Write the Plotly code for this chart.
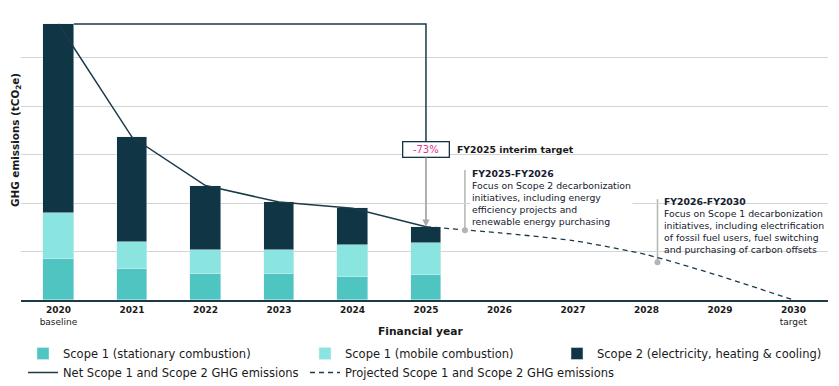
import plotly.graph_objects as go

# ---------------- data ----------------
years = ["2020", "2021", "2022", "2023", "2024", "2025", "2026", "2027", "2028", "2029", "2030"]
tick_text = ["<b>2020</b><br>baseline", "<b>2021</b>", "<b>2022</b>", "<b>2023</b>", "<b>2024</b>",
             "<b>2025</b>", "<b>2026</b>", "<b>2027</b>", "<b>2028</b>", "<b>2029</b>",
             "<b>2030</b><br>target"]
actual_years = years[:6]
scope1_stationary = [850, 640, 540, 540, 470, 520]
scope1_mobile = [950, 560, 490, 490, 660, 660]
scope2 = [3890, 2160, 1330, 990, 760, 330]
projected_years = years[5:]
projected = [1510, 1385, 1225, 935, 495, 0]
reduction_label = "-73%"

# callout anchors (x in category index units, y in tCO2e)
callout1_x, callout1_y0, callout1_y1 = 5.53, 1440, 2680
callout2_x, callout2_y0, callout2_y1 = 8.15, 780, 2080

DARK = "#103544"
LINE = "#1b3a4a"
TEAL = "#4EC5C1"
LIGHT = "#8AE4DF"
GREY = "#b4b4b4"
PINK = "#E0338F"
TXT = "#1a1a1a"
FONT = "DejaVu Sans"

# page offset (browser body margin)
OFF = 8
W, H = 839 - OFF, 386 - OFF
ML, MR, MT, MB = 21 - OFF, 11, 0, 86
PW, PH = W - ML - MR, H - MT - MB
Y_TOP = 6000 * PH / 291.0


def px_x(p):  # page pixel -> paper x
    return (p - OFF - ML) / PW


def px_y(p):  # page pixel -> paper y
    return (H - MB - (p - OFF)) / PH


xi = list(range(len(years)))
x_act = xi[:6]
x_proj = xi[5:]
totals = [a + b + c for a, b, c in zip(scope1_stationary, scope1_mobile, scope2)]

fig = go.Figure()
bw = 0.42
fig.add_trace(go.Bar(x=x_act, y=scope1_stationary, name="Scope 1 (stationary combustion)",
                     marker_color=TEAL, width=bw, legend="legend"))
fig.add_trace(go.Bar(x=x_act, y=scope1_mobile, name="Scope 1 (mobile combustion)",
                     marker_color=LIGHT, width=bw, legend="legend2"))
fig.add_trace(go.Bar(x=x_act, y=scope2, name="Scope 2 (electricity, heating & cooling)",
                     marker_color=DARK, width=bw, legend="legend3"))
fig.add_trace(go.Scatter(x=x_act, y=totals, mode="lines", name="Net Scope 1 and Scope 2 GHG emissions",
                         line=dict(color=LINE, width=1.5), legend="legend"))
fig.add_trace(go.Scatter(x=x_proj, y=projected, mode="lines",
                         name="Projected Scope 1 and Scope 2 GHG emissions",
                         line=dict(color=LINE, width=1.3, dash="5px,4px", shape="spline", smoothing=0.6),
                         legend="legend2"))
# callout dots
fig.add_trace(go.Scatter(x=[callout1_x, callout2_x], y=[callout1_y0, callout2_y0], mode="markers",
                         marker=dict(color=GREY, size=6), showlegend=False, hoverinfo="skip"))

fig.update_layout(barmode="stack")

# bracket from 2020 top to the -73% box
box_top = 3258
fig.add_shape(type="path",
              path=f"M{0 + bw/2},{totals[0]}L5,{totals[0]}L5,{box_top}",
              line=dict(color=LINE, width=1.5), layer="above")
# callout lines
fig.add_shape(type="line", x0=callout1_x, x1=callout1_x, y0=callout1_y0, y1=callout1_y1,
              line=dict(color=GREY, width=1.5), layer="below")
fig.add_shape(type="line", x0=callout2_x, x1=callout2_x, y0=callout2_y0, y1=callout2_y1,
              line=dict(color=GREY, width=1.5), layer="below")

ann = []
ann.append(dict(x=5, y=totals[5], xref="x", yref="y", text=reduction_label,
                showarrow=True, ax=0, ay=-77, arrowcolor="#a8a8a8", arrowwidth=1.8,
                arrowhead=2, arrowsize=0.8, standoff=0,
                font=dict(family=FONT, size=10, color=PINK),
                bgcolor="white", bordercolor=DARK, borderwidth=1.3, borderpad=1,
                width=43, height=12))
ann.append(dict(x=5.395, y=3113, xref="x", yref="y", xanchor="left", yanchor="middle",
                text="<b>FY2025 interim target</b>", showarrow=False,
                font=dict(family=FONT, size=9.3, color=TXT)))
ann.append(dict(x=5.6, y=2760, xref="x", yref="y", xanchor="left", yanchor="top", align="left",
                text="<b>FY2025-FY2026</b><br>Focus on Scope 2 decarbonization<br>initiatives, including energy<br>"
                     "efficiency projects and<br>renewable energy purchasing",
                showarrow=False, font=dict(family=FONT, size=9.3, color="#14202e"), bgcolor="white"))
ann.append(dict(x=8.21, y=2180, xref="x", yref="y", xanchor="left", yanchor="top", align="left",
                text="<b>FY2026-FY2030</b><br>Focus on Scope 1 decarbonization<br>initiatives, including electrification<br>"
                     "of fossil fuel users, fuel switching<br>and purchasing of carbon offsets",
                showarrow=False, font=dict(family=FONT, size=9.3, color="#14202e")))
ann.append(dict(x=px_x(420), y=px_y(331), xref="paper", yref="paper", xanchor="center", yanchor="middle",
                text="<b>Financial year</b>", showarrow=False,
                font=dict(family=FONT, size=10.7, color=TXT)))
ann.append(dict(x=px_x(16), y=px_y(140), xref="paper", yref="paper", xanchor="center", yanchor="middle",
                text="<b>GHG emissions (tCO<sub>2</sub>e)</b>", textangle=-90, showarrow=False,
                font=dict(family=FONT, size=10.4, color=TXT)))
fig.update_layout(annotations=ann)

legend_common = dict(orientation="v", xref="paper", yref="paper", yanchor="top", xanchor="left",
                     font=dict(family=FONT, size=11.5, color=TXT), bgcolor="rgba(0,0,0,0)",
                     itemclick=False, itemdoubleclick=False, tracegroupgap=0, traceorder="normal")
fig.update_layout(
    legend=dict(x=px_x(23), y=px_y(339), **legend_common),
    legend2=dict(x=px_x(305), y=px_y(339), **legend_common),
    legend3=dict(x=px_x(557), y=px_y(339), **legend_common),
)

fig.update_xaxes(range=[-0.51, 10.47], tickmode="array", tickvals=xi, ticktext=tick_text,
                 showgrid=False, zeroline=False, showline=True, linecolor=LINE, linewidth=2,
                 ticks="", tickfont=dict(family=FONT, size=9, color=TXT), automargin=False)
fig.update_yaxes(range=[0, Y_TOP], tickmode="array", tickvals=[1000, 2000, 3000, 4000, 5000, 6000],
                 showticklabels=False, showgrid=True,
                 gridcolor="#d4d4d4", gridwidth=1, zeroline=False, showline=False, ticks="",
                 automargin=False)

fig.update_layout(width=W, height=H, margin=dict(l=ML, r=MR, t=MT, b=MB, autoexpand=False),
                  plot_bgcolor="white", paper_bgcolor="white",
                  font=dict(family=FONT, color=TXT), bargap=0)

fig.write_html("out.html")
